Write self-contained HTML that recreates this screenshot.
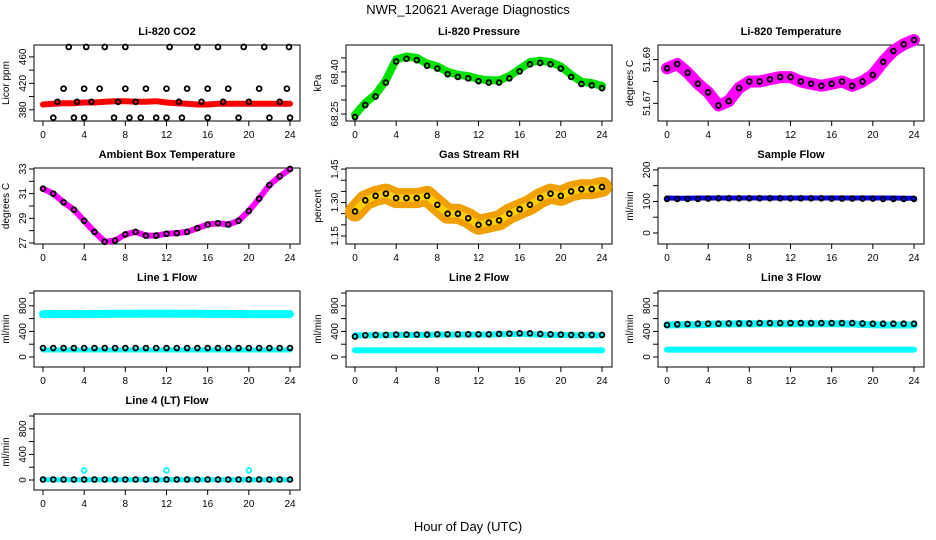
<!DOCTYPE html>
<html><head><meta charset="utf-8"><style>
html,body{margin:0;padding:0;background:#fff;}
svg{display:block;font-family:"Liberation Sans",Arial,sans-serif;}
</style></head><body>
<svg id="chart" width="936" height="540" viewBox="0 0 936 540" xmlns="http://www.w3.org/2000/svg">
<text x="468" y="14" font-size="13" text-anchor="middle">NWR_120621  Average Diagnostics</text>
<text x="468" y="531" font-size="13" text-anchor="middle">Hour of Day (UTC)</text>
</svg>
<script>
const hours = [0,1,2,3,4,5,6,7,8,9,10,11,12,13,14,15,16,17,18,19,20,21,22,23,24];
const xTicks = [0,4,8,12,16,20,24];
const co2Red = [388,389,390,390,391,391,392,393,393,392,392,393,391,390,389,388,388,389,389,389,389,389,389,389,389];
const co2BlackX = [1,1.4,2,2.5,3,3.3,4,4,4.2,4.7,5.5,6,6.9,7.3,8,8,8.4,9,9.5,10,11,12,12,12.3,13.2,13.5,14,15,15.4,16,16,17,17.5,18,19,19.5,20,21,21.5,22,23,23.7,23.9,24];
const co2BlackY = [368,392,412,475,368,392,368,412,475,392,412,475,368,392,412,475,368,392,368,412,368,368,412,475,392,368,412,475,392,368,412,475,392,412,368,475,392,412,475,368,392,412,475,368];
const pressure = [68.247,68.29,68.32,68.37,68.445,68.455,68.45,68.43,68.42,68.40,68.39,68.385,68.375,68.37,68.37,68.385,68.41,68.435,68.44,68.435,68.42,68.39,68.365,68.36,68.35];
const lcTemp = [51.686,51.688,51.684,51.679,51.675,51.669,51.671,51.677,51.680,51.680,51.681,51.682,51.682,51.680,51.679,51.678,51.679,51.680,51.678,51.680,51.683,51.689,51.694,51.697,51.699];
const ambient = [31.4,31.0,30.3,29.7,28.8,27.9,27.1,27.2,27.7,27.9,27.6,27.6,27.75,27.8,27.9,28.2,28.5,28.6,28.5,28.8,29.6,30.6,31.7,32.4,33.0];
const rh = [1.26,1.31,1.33,1.34,1.32,1.32,1.32,1.33,1.29,1.25,1.25,1.23,1.20,1.21,1.22,1.25,1.27,1.29,1.32,1.34,1.33,1.35,1.36,1.36,1.37];
const sampleBlue = [111,110,110,111,111,111,111,111,111,111,111,111,111,111,111,111,111,111,111,111,111,111,111,110,110];
const sampleBlack = [108,108,108,108,109,110,110,110,110,110,110,110,110,110,110,110,109,109,109,109,109,108,108,108,108];
const l1Cyan = [670,672,672,672,670,672,674,676,676,676,678,678,678,676,676,676,674,674,674,672,670,670,670,670,670];
const l1Low = [110,110,110,110,110,110,110,110,110,110,110,110,110,110,110,110,110,110,110,110,110,110,110,110,110];
const l1Black = [140,140,140,140,140,140,140,140,140,140,140,140,140,140,140,140,140,140,140,140,140,140,140,140,140];
const l2Cyan = [340,340,340,340,345,345,345,345,350,350,350,350,350,350,355,360,360,355,350,345,345,340,340,340,340];
const l2Low = [105,105,105,105,105,105,105,105,105,105,105,105,105,105,105,105,105,105,105,105,105,105,105,105,105];
const l2Black = [320,340,345,345,350,350,350,350,355,355,355,355,355,355,360,365,370,370,360,355,350,345,345,345,345];
const l3Cyan = [500,505,505,505,510,515,515,520,520,520,520,520,520,520,520,520,520,520,515,510,505,500,500,500,500];
const l3Low = [115,115,115,115,115,115,115,115,115,115,115,115,115,115,115,115,115,115,115,115,115,115,115,115,115];
const l3Black = [500,510,515,520,520,520,525,525,525,530,530,530,530,530,530,530,530,530,530,525,520,520,520,520,520];
const l4Cyan = [5,5,5,5,5,5,5,5,5,5,5,5,5,5,5,5,5,5,5,5,5,5,5,5,5];
const l4Black = [8,8,8,8,8,8,8,8,8,8,8,8,8,8,8,8,8,8,8,8,8,8,8,8,8];
const l4SpikeX = [4,12,20];
const l4SpikeY = [150,150,150];

const svg = document.getElementById('chart');
const NS = 'http://www.w3.org/2000/svg';
function mk(tag, attrs, parent){ const e=document.createElementNS(NS,tag); for(const k in attrs) e.setAttribute(k,attrs[k]); (parent||svg).appendChild(e); return e; }

function panel(col,row,name,title,ylab,ymin,ymax,ticks,labels,fmt){
  const L=34+312*col, T=45+123*row, W=266, H=76;
  const g=mk('g',{});
  
  
  const xs=h=>L+9+h*(247/24);
  const ys=v=>T+H-(v-ymin)/(ymax-ymin)*H;
  const box=mk('rect',{x:L,y:T,width:W,height:H,fill:'none',stroke:'#000','stroke-width':1},g);
  
  
  const tt=mk('text',{x:L+W/2,y:T-10,'font-size':11,'font-weight':'bold','text-anchor':'middle'},g);
  
  
  tt.textContent=title;
  const yl=mk('text',{x:0,y:0,'font-size':10,'text-anchor':'middle',transform:`translate(${L-25},${T+H/2}) rotate(-90)`},g);
  
  
  yl.textContent=ylab;
  xTicks.forEach(t=>{
    mk('line',{x1:xs(t),x2:xs(t),y1:T+H,y2:T+H+5,stroke:'#000'},g);
    const lt=mk('text',{x:xs(t),y:T+H+17,'font-size':10,'text-anchor':'middle'},g);
    
    
    lt.textContent=t;
  });
  ticks.forEach(t=>{
    mk('line',{x1:L,x2:L-5,y1:ys(t),y2:ys(t),stroke:'#000'},g);
  });
  labels.forEach(t=>{
    const lt=mk('text',{x:0,y:0,'font-size':10,'text-anchor':'middle',transform:`translate(${L-8},${ys(t)}) rotate(-90)`},g);
    
    
    lt.textContent=fmt?fmt(t):t;
  });
  const clip=mk('g',{},g);
  return {g:clip,xs,ys};
}
function band(p,xsArr,vals,color,w,name){
  const d=vals.map((v,i)=>(i?'L':'M')+p.xs(xsArr[i]).toFixed(1)+' '+p.ys(v).toFixed(1)).join(' ');
  const e=mk('path',{d,fill:'none',stroke:color,'stroke-width':w,'stroke-linecap':'round','stroke-linejoin':'round'},p.g);
  
  
}
function pts(p,xsArr,vals,color,name,r){
  vals.forEach((v,i)=>{
    const c=mk('circle',{cx:p.xs(xsArr[i]),cy:p.ys(v),r:r||2.4,fill:'none',stroke:color,'stroke-width':1.8},p.g);
    
    
  });
}
let p;
p=panel(0,0,'co2','Li-820 CO2','Licor ppm',363,478,[380,400,420,440,460],[380,420,460]);
band(p,hours,co2Red,'#ff0000',6,'co2-red-series');
pts(p,co2BlackX,co2BlackY,'#000','co2-point');

p=panel(1,0,'pressure','Li-820 Pressure','kPa',68.225,68.496,[68.25,68.30,68.35,68.40,68.45],[68.25,68.40],v=>v.toFixed(2));
band(p,hours,pressure,'#00e000',8,'pressure-green-series');
pts(p,hours,pressure.map(v=>v-0.008),'#000','pressure-point');

p=panel(2,0,'licor-temp','Li-820 Temperature','degrees C',51.6619,51.6967,[51.67,51.68,51.69],[51.67,51.69],v=>v.toFixed(2));
band(p,hours,lcTemp,'#ff00ff',12,'licor-temp-magenta-series');
pts(p,hours,lcTemp,'#000','licor-temp-point');

p=panel(0,1,'ambient','Ambient Box Temperature','degrees C',26.92,33.08,[27,28,29,30,31,32,33],[27,29,31,33]);
band(p,hours,ambient,'#ff00ff',6,'ambient-magenta-series');
pts(p,hours,ambient,'#000','ambient-point');

p=panel(1,1,'rh','Gas Stream RH','percent',1.114,1.455,[1.15,1.20,1.25,1.30,1.35,1.40,1.45],[1.15,1.30,1.45],v=>v.toFixed(2));
band(p,hours,rh,'#f0a000',20,'rh-orange-series');
band(p,hours,rh,'#ffd000',7,'rh-yellow-series');
pts(p,hours,rh,'#000','rh-point');

p=panel(2,1,'sample-flow','Sample Flow','ml/min',-35,206,[0,50,100,150,200],[0,100,200]);
band(p,hours,sampleBlue,'#0000ff',5,'sample-blue-series');
pts(p,hours,sampleBlack,'#000','sample-point');

p=panel(0,2,'line1','Line 1 Flow','ml/min',-156,1031,[0,200,400,600,800,1000],[0,400,800]);
band(p,hours,l1Cyan,'#00ffff',8,'line1-cyan-series');
band(p,hours,l1Low,'#00ffff',5,'line1-cyan-low-series');
pts(p,hours,l1Black,'#000','line1-point');

p=panel(1,2,'line2','Line 2 Flow','ml/min',-156,1031,[0,200,400,600,800,1000],[0,400,800]);
band(p,hours,l2Cyan,'#00ffff',6,'line2-cyan-series');
band(p,hours,l2Low,'#00ffff',6,'line2-cyan-low-series');
pts(p,hours,l2Black,'#000','line2-point');

p=panel(2,2,'line3','Line 3 Flow','ml/min',-156,1031,[0,200,400,600,800,1000],[0,400,800]);
band(p,hours,l3Cyan,'#00ffff',7,'line3-cyan-series');
band(p,hours,l3Low,'#00ffff',6,'line3-cyan-low-series');
pts(p,hours,l3Black,'#000','line3-point');

p=panel(0,3,'line4','Line 4 (LT) Flow','ml/min',-156,1031,[0,200,400,600,800,1000],[0,400,800]);
band(p,hours,l4Cyan,'#00ffff',5,'line4-cyan-series');
pts(p,l4SpikeX,l4SpikeY,'#00ffff','line4-spike-point');
pts(p,hours,l4Black,'#000','line4-point');
</script>
</body></html>
